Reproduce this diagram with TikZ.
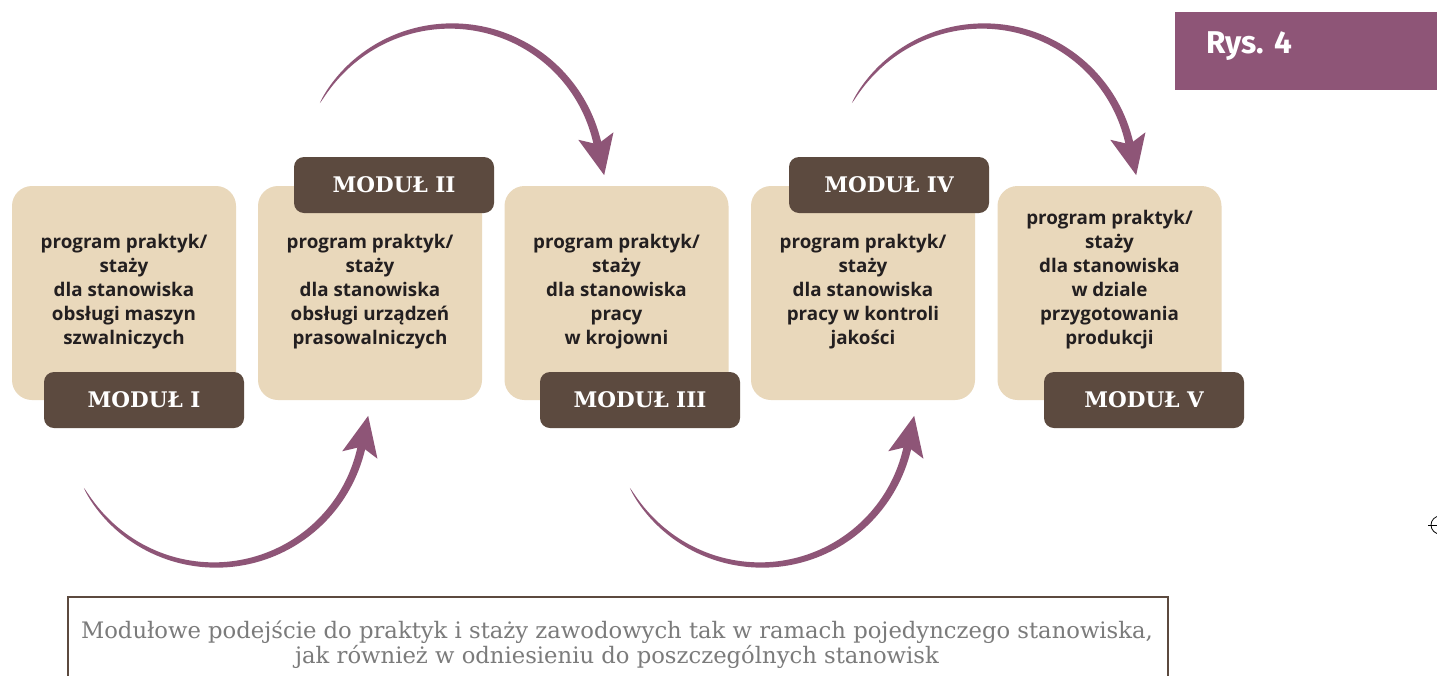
\documentclass[tikz,border=0pt]{standalone}
\usepackage{fontspec}
\newfontfamily\boxsans{Open Sans}
\newfontfamily\rysfont{Fira Sans}
\newfontfamily\slabserif{DejaVu Serif}
\definecolor{beige}{HTML}{E9D8BB}
\definecolor{tagbrown}{HTML}{5C4A3F}
\definecolor{arcpurple}{HTML}{8E5577}
\definecolor{boxink}{HTML}{231F20}
\definecolor{capgray}{HTML}{7B7B7B}
\newcommand\taperarrow[4]{%
  \pgfmathsetmacro\tasg{ifthenelse((#4)>(#3),1,-1)}%
  \fill[arrowfill] plot[domain=#3:#4,samples=120,variable=\t]
    ({#1+(150+4*sqrt(abs((\t-(#3))/((#4)-(#3)))))*cos(\t)},
     {#2+(150+4*sqrt(abs((\t-(#3))/((#4)-(#3)))))*sin(\t)})
    -- plot[domain=#4:#3,samples=120,variable=\t]
    ({#1+(150-4*sqrt(abs((\t-(#3))/((#4)-(#3)))))*cos(\t)},
     {#2+(150-4*sqrt(abs((\t-(#3))/((#4)-(#3)))))*sin(\t)}) -- cycle;
  \pgfmathsetmacro\taex{#1+150*cos(#4)}%
  \pgfmathsetmacro\taey{#2+150*sin(#4)}%
  \pgfmathsetmacro\tadx{-1*(\tasg)*sin(#4)}%
  \pgfmathsetmacro\tady{(\tasg)*cos(#4)}%
  \pgfmathsetmacro\tanx{cos(#4)}%
  \pgfmathsetmacro\tany{sin(#4)}%
  \fill[arrowfill] ({\taex+31*(\tadx)},{\taey+31*(\tady)})
    -- ({\taex-9*(\tadx)+18*(\tanx)},{\taey-9*(\tady)+18*(\tany)})
    -- ({\taex-0.5*(\tadx)},{\taey-0.5*(\tady)})
    -- ({\taex-9*(\tadx)-18*(\tanx)},{\taey-9*(\tady)-18*(\tany)}) -- cycle;
}
\begin{document}
\begin{tikzpicture}[x=1pt,y=-1pt,
  card/.style={fill=beige, rounded corners=20pt, minimum width=224pt, minimum height=214pt, inner sep=0pt},
  cardtext/.style={align=center, text=boxink, inner sep=0pt, font=\boxsans\bfseries\fontsize{18.8}{24}\selectfont},
  modtag/.style={fill=tagbrown, rounded corners=10pt, minimum width=200pt, minimum height=56pt, inner sep=0pt, text=white, font=\slabserif\bfseries\fontsize{21.5}{26}\selectfont},
  arrowfill/.style={fill=arcpurple},
  captext/.style={align=center, text=capgray, inner sep=0pt, font=\slabserif\fontsize{22.7}{25.5}\selectfont}]
\clip (0,0) rectangle (1437,675);
\useasboundingbox (0,0) rectangle (1437,675);
\fill[white] (0,0) rectangle (1437,675);

% cards
\node[card] (card1) at (124,293) {};
\node[card] (card2) at (370,293) {};
\node[card] (card3) at (616.5,293) {};
\node[card] (card4) at (863,293) {};
\node[card] (card5) at (1109.5,293) {};

\node[cardtext] (txt1) at (124,291.5) {program praktyk/\\staży\\dla stanowiska\\obsługi maszyn\\szwalniczych};
\node[cardtext] (txt2) at (370,291.5) {program praktyk/\\staży\\dla stanowiska\\obsługi urządzeń\\prasowalniczych};
\node[cardtext] (txt3) at (616.5,291.5) {program praktyk/\\staży\\dla stanowiska\\pracy\\w krojowni};
\node[cardtext] (txt4) at (863,291.5) {program praktyk/\\staży\\dla stanowiska\\pracy w kontroli\\jakości};
\node[cardtext] (txt5) at (1109.5,279.5) {program praktyk/\\staży\\dla stanowiska\\w dziale\\przygotowania\\produkcji};

% module tags
\node[modtag] (tag1) at (144,400) {MODUŁ I};
\node[modtag] (tag2) at (394,185) {MODUŁ II};
\node[modtag] (tag3) at (640,400) {MODUŁ III};
\node[modtag] (tag4) at (889,185) {MODUŁ IV};
\node[modtag] (tag5) at (1144,400) {MODUŁ V};

% curved arrows
\taperarrow{451}{176}{-150.9}{-12}
\taperarrow{983}{176}{-150.9}{-12}
\taperarrow{215}{415}{150.9}{12}
\taperarrow{761}{415}{150.9}{12}

% figure label
\node[fill=arcpurple, minimum width=262pt, minimum height=78pt, inner sep=0pt, anchor=north west] (rysbox) at (1175,12) {};
\node[anchor=base west, inner sep=0pt, text=white, font=\rysfont\bfseries\fontsize{31.5}{33}\selectfont] (rys) at (1206,53) {Rys. 4};

% registration mark
\draw[line width=0.8pt] (1440,525) circle (9pt);
\draw[line width=0.8pt] (1428,525) -- (1437,525);

% caption
\draw[tagbrown, line width=2pt] (68,597) rectangle (1168,700);
\node[captext] (caption) at (617,644.5) {Modułowe podejście do praktyk i staży zawodowych tak w ramach pojedynczego stanowiska,\\jak również w odniesieniu do poszczególnych stanowisk};
\end{tikzpicture}
\end{document}
